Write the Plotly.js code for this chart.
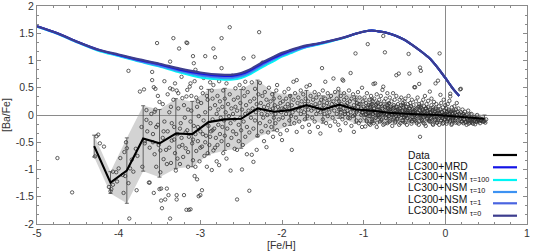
<!DOCTYPE html>
<html><head><meta charset="utf-8">
<script src="https://cdn.plot.ly/plotly-3.0.1.min.js"></script>
<style>html,body{margin:0;padding:0;background:#fff;}#chart{width:534px;height:251px;}</style>
</head><body><div id="chart"></div>
<script>
// ---- observed stars: [Fe/H], [Ba/Fe] pairs, by metallicity range ----
const starsVeryMetalPoor = [
[-4.75,-0.79],[-4.57,-1.42],[-4.27,-0.39],[-4.25,-0.36],[-4.23,-0.52],[-4.29,-0.76],[-4.18,-0.58],[-4.12,-1.32],[-4.09,-1.36],[-4.07,-1.28],[-4.10,-1.40],[-4.07,-1.04],[-4.03,-1.05],[-4.00,-0.98],[-3.98,-0.79],[-3.95,-1.10],[-4.02,-1.22],[-3.94,-1.43],[-3.93,-0.68],[-3.91,-0.50],[-3.90,-0.61],[-3.87,-1.90],[-3.88,-1.25],[-3.88,0.81],[-3.92,-1.12],[-3.86,-0.98],[-3.84,-0.82],[-3.82,-1.04],[-3.78,-1.38],[-3.79,-0.62],[-3.77,-0.75],[-3.74,0.43],[-3.72,-0.22],[-3.71,-0.95],[-3.69,0.47],[-3.68,-0.52],[-3.68,-0.48],[-3.66,0.09],[-3.66,-0.09],[-3.65,-0.30],[-3.63,-1.24],[-3.62,-0.60],[-3.61,-0.15],[-3.60,0.02],[-3.59,0.64],[-3.59,0.79],[-3.62,-1.24],[-3.57,-1.43],[-3.56,0.06]
];
const starsMetalPoor = [
[-3.58,-0.35],[-3.57,0.51],[-3.55,0.48],[-3.53,1.32],[-3.50,0.24],[-3.56,-0.72],[-3.54,-0.95],[-3.52,-0.18],[-3.51,-0.55],[-3.49,-1.05],[-3.48,-1.35],[-3.50,-1.36],[-3.47,-1.71],[-3.48,-1.57],[-3.46,-0.42],[-3.45,-0.81],[-3.44,-0.12],[-3.43,-1.55],[-3.42,-0.64],[-3.41,-1.35],[-3.40,-0.30],[-3.39,-1.47],[-3.38,0.05],[-3.37,0.49],[-3.37,0.98],[-3.37,-1.90],[-3.36,-0.88],[-3.35,-0.47],[-3.34,0.47],[-3.33,1.41],[-3.33,0.28],[-3.32,-0.22],[-3.31,-0.70],[-3.30,-1.02],[-3.29,0.45],[-3.29,-1.55],[-3.29,-1.47],[-3.28,-0.35],[-3.27,0.12],[-3.26,1.22],[-3.26,-0.58],[-3.25,-0.90],[-3.24,-0.15],[-3.23,-0.42],[-3.22,0.31],[-3.21,-0.77],[-3.20,-1.47],[-3.19,-0.05],[-3.18,-0.61],[-3.17,1.33],[-3.17,0.34],[-3.17,-1.74],[-3.16,-0.28],[-3.16,0.46],[-3.16,1.32],[-3.15,-0.95],[-3.14,-1.74],[-3.14,-0.40],[-3.13,0.52],[-3.12,0.58],[-3.12,-1.73],[-3.11,0.08],[-3.10,-0.52],[-3.09,1.08],[-3.09,-0.83],[-3.08,0.95],[-3.08,-0.20],[-3.07,-1.12],[-3.06,0.83],[-3.06,-0.35],[-3.05,0.32],[-3.05,-0.66],[-3.04,-1.18],[-3.04,0.15],[-3.03,-0.48],[-3.02,-1.49],[-3.02,-0.02],[-3.01,-0.85],[-3.00,-1.47],[-3.00,-0.30],[-2.99,0.22],[-2.98,-1.38],[-2.98,-0.58],[-2.97,0.40],[-2.96,-0.10],[-2.95,-0.75],[-2.94,1.08],[-2.94,0.05],[-2.93,-0.38],[-2.92,-0.95],[-2.91,0.28],[-2.90,-0.20],[-2.89,-0.55],[-2.88,0.12],[-2.87,-0.30],[-2.86,-1.01],[-2.86,0.45],[-2.85,-0.08],[-2.84,1.22],[-2.84,0.55],[-2.84,-0.65],[-2.83,-0.25],[-2.82,1.06],[-2.82,0.18],[-2.81,-0.42],[-2.80,-0.85],[-2.80,0.02],
[-3.55,0.10],[-3.52,0.35],[-3.46,0.20],[-3.44,0.62],[-3.40,0.38],[-3.36,0.15],[-3.31,0.58],[-3.27,0.40],[-3.23,0.70],[-3.20,0.18],[-3.15,0.10],[-3.11,0.35],[-3.07,0.62],[-3.03,0.25],[-2.99,0.50],[-2.96,0.68],[-2.92,0.35],[-2.88,0.60],[-2.85,0.30],
[-3.58,-0.50],[-3.54,-0.22],[-3.49,-0.65],[-3.45,-0.30],[-3.41,-0.90],[-3.38,-0.60],[-3.35,-0.15],[-3.32,-0.45],[-3.28,-0.80],[-3.25,-0.25],[-3.22,-0.55],[-3.18,-0.32],[-3.15,-0.68],[-3.12,-0.12],[-3.09,-0.45],[-3.06,-0.95],[-3.03,-0.22],[-3.00,-0.60],[-2.97,-0.35],[-2.94,-0.50],[-2.91,-0.70],[-2.88,-0.40],[-2.85,-0.28],[-2.82,-0.60]
];
const starsHalo = [
[-2.79,0.35],[-2.79,-0.55],[-2.78,0.10],[-2.78,-0.18],[-2.77,0.62],[-2.77,-0.92],[-2.76,-0.35],[-2.76,0.25],[-2.75,-0.05],[-2.74,1.41],[-2.74,0.86],[-2.74,-0.48],[-2.73,0.15],[-2.73,-0.22],[-2.72,0.45],[-2.72,-0.70],[-2.71,-0.10],[-2.70,0.30],[-2.70,-0.38],[-2.69,0.05],[-2.68,-0.80],[-2.68,0.58],[-2.67,-0.25],[-2.66,0.20],[-2.66,-0.55],[-2.65,-0.02],[-2.64,1.61],[-2.64,0.38],[-2.63,-1.02],[-2.63,-0.15],[-2.62,0.12],[-2.62,-0.42],[-2.61,0.72],[-2.60,-0.30],[-2.60,0.02],[-2.59,0.28],[-2.58,-0.62],[-2.58,-0.08],[-2.57,0.49],[-2.57,0.15],[-2.56,-0.35],[-2.55,-1.55],[-2.55,-0.64],[-2.55,0.08],[-2.54,0.32],[-2.53,-0.18],[-2.53,-0.48],[-2.52,0.55],[-2.51,-0.05],[-2.51,0.22],[-2.50,-0.28],[-2.49,-1.00],[-2.49,0.10],[-2.48,-0.55],[-2.47,1.04],[-2.47,0.49],[-2.47,-0.12],[-2.46,0.35],[-2.45,-0.40],[-2.45,0.02],[-2.45,0.61],[-2.44,0.18],[-2.43,-0.72],[-2.43,-0.22],[-2.42,0.42],[-2.41,0.08],[-2.40,-1.39],[-2.40,-0.32],[-2.39,0.25],[-2.38,-0.05],[-2.37,-0.73],[-2.37,0.60],[-2.36,0.12],[-2.35,1.07],[-2.35,-0.86],[-2.35,-0.25],[-2.34,0.30],[-2.33,-0.10],[-2.33,0.48],[-2.32,0.05],[-2.31,-0.64],[-2.31,0.20],[-2.30,-0.38],[-2.29,0.38],[-2.28,1.52],[-2.28,0.10],[-2.27,-0.15],[-2.27,0.59],[-2.26,0.22],[-2.25,-0.30],[-2.25,0.02],[-2.24,0.96],[-2.24,0.35],[-2.23,-0.05],[-2.22,0.15],[-2.22,-0.48],[-2.21,0.42],[-2.20,0.08],[-2.20,-0.20],[-2.19,-0.59],[-2.19,0.28],[-2.18,0.00],[-2.17,0.18],[-2.17,-0.32],[-2.16,0.50],[-2.15,0.10],[-2.15,-0.12],[-2.14,0.25],[-2.13,-0.22],[-2.13,0.05],[-2.12,0.38],[-2.11,-0.40],[-2.11,0.12],[-2.10,-0.05],[-2.10,0.30],[-2.09,0.18],[-2.08,-0.15],[-2.08,0.02],[-2.07,0.45],[-2.06,0.55],[-2.06,-0.28],[-2.05,0.15],[-2.04,0.08],[-2.04,-0.08],[-2.03,0.32],[-2.02,-0.35],[-2.02,0.22],[-2.01,0.05],[-2.00,-0.46],[-2.00,0.12]
];
const starsThickDisk = [
[-1.99,0.25],[-1.99,-0.05],[-1.98,0.10],[-1.97,0.42],[-1.97,-0.18],[-1.96,0.15],[-1.95,0.02],[-1.95,0.30],[-1.94,-0.28],[-1.93,0.08],[-1.93,0.20],[-1.92,0.48],[-1.91,-0.10],[-1.91,0.12],[-1.90,0.35],[-1.89,-0.02],[-1.88,-0.64],[-1.88,0.18],[-1.87,0.05],[-1.86,0.61],[-1.86,0.28],[-1.85,-0.15],[-1.84,0.10],[-1.84,0.40],[-1.83,-0.05],[-1.82,0.64],[-1.82,-0.31],[-1.81,0.22],[-1.80,0.08],[-1.80,0.32],[-1.79,-0.12],[-1.78,0.15],[-1.77,0.45],[-1.77,0.02],[-1.76,0.25],[-1.75,-0.22],[-1.75,0.12],[-1.74,0.38],[-1.73,0.05],[-1.72,0.20],[-1.72,-0.08],[-1.71,0.30],[-1.70,0.15],[-1.70,0.52],[-1.69,-0.02],[-1.68,0.25],[-1.68,0.10],[-1.67,-0.18],[-1.66,0.55],[-1.66,-0.31],[-1.65,0.35],[-1.64,0.08],[-1.64,0.18],[-1.63,-0.05],[-1.62,0.28],[-1.61,0.12],[-1.60,0.42],[-1.60,-0.12],[-1.59,0.20],[-1.58,0.02],[-1.58,0.32],[-1.57,0.15],[-1.56,-0.22],[-1.56,0.08],[-1.55,0.38],[-1.54,0.22],[-1.53,-0.34],[-1.53,0.05],[-1.52,0.28],[-1.51,0.86],[-1.51,0.12],[-1.50,-0.08],[-1.50,0.45],[-1.49,0.18],[-1.48,0.02],[-1.47,0.61],[-1.47,0.30],[-1.46,-0.15],[-1.46,0.10],[-1.45,0.22],[-1.44,0.40],[-1.44,-0.02],[-1.43,0.15],[-1.42,0.28],[-1.42,0.05],[-1.41,-0.20],[-1.40,0.35],[-1.40,0.12],[-1.39,0.20],[-1.38,-0.05],[-1.37,0.67],[-1.37,0.25],[-1.36,0.08],[-1.35,0.42],[-1.35,-0.12],[-1.34,0.18],[-1.33,0.30],[-1.33,0.02],[-1.32,0.15],[-1.31,0.48],[-1.31,-0.18],[-1.30,0.10],[-1.30,0.25],[-1.29,-0.28],[-1.28,0.35],[-1.28,0.05],[-1.27,0.20],[-1.26,0.65],[-1.26,-0.08],[-1.25,0.63],[-1.25,0.12],[-1.24,0.28],[-1.24,0.40],[-1.23,0.02],[-1.22,0.18],[-1.22,-0.15],[-1.21,0.32],[-1.20,0.08],[-1.20,0.22],[-1.19,-0.05],[-1.18,0.15],[-1.18,0.45],[-1.17,0.25],[-1.16,0.77],[-1.16,0.05],[-1.15,-0.20],[-1.15,0.30],[-1.14,0.12],[-1.13,0.38],[-1.13,-0.02],[-1.12,-0.31],[-1.12,0.18],[-1.11,0.10],[-1.10,1.13],[-1.10,0.28],[-1.09,-0.10],[-1.09,0.05],[-1.08,0.22],[-1.07,0.42],[-1.07,0.15],[-1.06,-0.15],[-1.05,0.08],[-1.05,0.32],[-1.04,0.20],[-1.03,0.00],[-1.03,0.12],[-1.02,0.50],[-1.02,-0.22],[-1.01,0.25],[-1.01,0.05],[-1.00,0.15]
];
const starsThinDisk = [
[-0.99,0.32],[-0.99,-0.05],[-0.98,0.12],[-0.98,-0.21],[-0.97,0.22],[-0.97,0.02],[-0.96,0.40],[-0.96,-0.12],[-0.95,0.08],[-0.95,1.30],[-0.94,0.18],[-0.94,-0.02],[-0.93,0.28],[-0.93,0.05],[-0.92,-0.18],[-0.92,0.15],[-0.91,0.35],[-0.91,0.10],[-0.90,-0.08],[-0.90,0.20],
[-0.89,0.02],[-0.89,0.25],[-0.88,0.57],[-0.88,-0.15],[-0.87,0.12],[-0.87,0.30],[-0.86,0.58],[-0.86,0.05],[-0.85,-0.05],[-0.85,0.18],[-0.84,0.38],[-0.84,-0.22],[-0.83,0.10],[-0.83,0.22],[-0.82,-0.02],[-0.82,0.15],[-0.81,0.28],[-0.81,0.00],[-0.80,0.08],[-0.80,-0.12],
[-0.79,0.20],[-0.79,0.35],[-0.78,0.05],[-0.78,-0.08],[-0.77,0.46],[-0.77,0.12],[-0.76,1.45],[-0.76,0.52],[-0.76,-0.18],[-0.75,0.25],[-0.75,0.02],[-0.74,1.15],[-0.74,0.15],[-0.73,-0.05],[-0.73,0.30],[-0.72,0.08],[-0.72,0.18],[-0.71,-0.15],[-0.71,0.40],[-0.70,0.05],[-0.70,0.12],
[-0.69,-0.02],[-0.69,0.22],[-0.68,0.10],[-0.68,0.32],[-0.67,-0.10],[-0.67,0.15],[-0.66,0.05],[-0.66,0.25],[-0.65,-0.20],[-0.65,0.00],[-0.64,0.40],[-0.64,0.12],[-0.63,-0.05],[-0.63,0.18],[-0.62,0.28],[-0.62,0.02],[-0.61,0.08],[-0.61,-0.12],[-0.60,0.73],[-0.60,0.15],[-0.60,0.35],
[-0.59,0.05],[-0.59,-0.08],[-0.58,0.20],[-0.58,0.10],[-0.57,0.76],[-0.57,-0.02],[-0.56,0.28],[-0.56,0.12],[-0.55,-0.15],[-0.55,0.04],[-0.54,0.18],[-0.54,0.32],[-0.53,0.00],[-0.53,0.08],[-0.52,-0.10],[-0.52,0.22],[-0.51,0.14],[-0.51,0.02],[-0.50,0.25],[-0.50,-0.05],
[-0.49,0.10],[-0.49,0.30],[-0.48,-0.02],[-0.48,0.15],[-0.47,0.05],[-0.47,-0.18],[-0.46,0.20],[-0.46,0.08],[-0.45,1.12],[-0.45,0.00],[-0.45,0.35],[-0.44,0.76],[-0.44,0.12],[-0.43,-0.08],[-0.43,0.22],[-0.42,0.04],[-0.42,0.16],[-0.41,-0.12],[-0.41,0.28],[-0.40,0.06],[-0.40,0.10],
[-0.39,-0.04],[-0.39,0.18],[-0.38,0.51],[-0.38,0.08],[-0.37,0.51],[-0.37,-0.10],[-0.36,0.25],[-0.36,0.02],[-0.35,0.12],[-0.35,-0.15],[-0.34,0.32],[-0.34,0.05],[-0.33,0.15],[-0.33,-0.05],[-0.32,0.57],[-0.32,0.20],[-0.31,0.87],[-0.31,-0.40],[-0.31,0.08],[-0.30,0.81],[-0.30,0.00],[-0.30,0.14],
[-0.29,-0.08],[-0.29,0.22],[-0.28,0.10],[-0.28,0.04],[-0.27,0.28],[-0.27,-0.14],[-0.26,0.06],[-0.26,0.16],[-0.25,-0.02],[-0.25,0.35],[-0.24,0.12],[-0.24,-0.20],[-0.23,0.02],[-0.23,0.20],[-0.22,0.08],[-0.22,-0.06],[-0.21,0.26],[-0.21,0.14],[-0.20,0.00],[-0.20,-0.10]
];
const starsSolar = [
[-0.19,0.43],[-0.19,0.10],[-0.18,0.04],[-0.18,-0.12],[-0.17,0.18],[-0.17,0.30],[-0.16,-0.04],[-0.16,0.08],[-0.15,0.14],[-0.15,-0.18],[-0.14,0.02],[-0.14,0.24],[-0.13,0.06],[-0.13,-0.08],[-0.12,0.58],[-0.12,0.12],[-0.11,-0.02],[-0.11,0.20],[-0.10,0.04],[-0.10,-0.14],
[-0.09,0.63],[-0.09,0.08],[-0.08,0.16],[-0.08,-0.06],[-0.07,1.13],[-0.07,0.02],[-0.06,0.37],[-0.06,0.10],[-0.05,-0.10],[-0.05,0.22],[-0.04,0.05],[-0.04,-0.02],[-0.03,0.14],[-0.03,-0.16],[-0.02,0.28],[-0.02,0.00],[-0.01,0.08],[-0.01,-0.08],[0.00,0.18],[0.00,0.02],
[0.01,-0.04],[0.01,0.12],[0.02,0.06],[0.02,-0.12],[0.03,0.20],[0.03,0.00],[0.04,-0.06],[0.04,0.10],[0.05,0.02],[0.05,0.26],[0.06,0.34],[0.06,-0.10],[0.06,0.39],[0.07,0.06],[0.07,-0.02],[0.08,0.14],[0.08,-0.16],[0.09,0.04],[0.09,-0.06],[0.10,0.08],
[0.11,-0.02],[0.11,0.16],[0.12,-0.10],[0.12,0.04],[0.13,0.10],[0.13,-0.06],[0.14,0.00],[0.14,0.22],[0.15,-0.14],[0.15,0.06],[0.16,-0.04],[0.16,0.12],[0.17,0.02],[0.18,0.47],[0.18,-0.08],[0.19,0.48],[0.19,0.05],[0.20,-0.12],[0.20,0.00],
[0.21,-0.05],[0.21,0.10],[0.22,-0.15],[0.22,0.02],[0.23,-0.08],[0.24,0.06],[0.24,-0.02],[0.25,-0.12],[0.26,0.00],[0.26,-0.18],[0.27,-0.06],[0.28,0.08],[0.28,-0.10],[0.29,-0.03],[0.30,-0.14],
[0.31,-0.06],[0.32,0.02],[0.32,-0.12],[0.33,-0.08],[0.34,-0.16],[0.35,-0.04],[0.36,-0.10],[0.37,-0.07],[0.38,-0.13],[0.39,0.00],[0.40,-0.09],[0.41,-0.12],[0.42,-0.06],[0.43,-0.10],[0.45,-0.08],[0.46,-0.12],[0.48,-0.10],[0.50,-0.08]
];
const starsDiskCore = [
[-1.28,0.10],[-1.26,-0.02],[-1.23,0.06],[-1.21,0.16],[-1.19,0.02],[-1.17,-0.06],[-1.14,0.12],[-1.11,0.00],[-1.08,0.08],[-1.06,0.20],[-1.04,-0.10],[-1.02,0.04],
[-0.985,0.08],[-0.975,0.00],[-0.965,-0.10],[-0.955,0.14],[-0.945,0.04],[-0.935,-0.16],[-0.925,-0.02],[-0.915,0.18],[-0.905,0.06],
[-0.895,-0.12],[-0.885,0.02],[-0.875,0.12],[-0.865,-0.06],[-0.855,0.04],[-0.845,0.20],[-0.835,-0.14],[-0.825,0.00],[-0.815,0.10],[-0.805,-0.04],
[-0.795,0.06],[-0.785,-0.10],[-0.775,0.16],[-0.765,0.00],[-0.755,0.04],[-0.745,-0.16],[-0.735,0.10],[-0.725,-0.06],[-0.715,0.02],[-0.705,0.18],
[-0.695,-0.02],[-0.685,-0.12],[-0.675,0.06],[-0.665,0.12],[-0.655,0.02],[-0.645,-0.08],[-0.635,0.04],[-0.625,0.14],[-0.615,-0.14],[-0.605,-0.02],
[-0.595,0.08],[-0.585,-0.06],[-0.575,0.02],[-0.565,-0.18],[-0.555,0.12],[-0.545,0.00],[-0.535,-0.10],[-0.525,0.06],[-0.515,0.18],[-0.505,-0.04],
[-0.495,-0.14],[-0.485,0.00],[-0.475,0.08],[-0.465,-0.06],[-0.455,0.04],[-0.445,-0.10],[-0.435,0.12],[-0.425,0.02],[-0.415,-0.16],[-0.405,-0.04],
[-0.395,0.06],[-0.385,-0.08],[-0.375,0.00],[-0.365,0.10],[-0.355,-0.12],[-0.345,-0.02],[-0.335,0.04],[-0.325,-0.18],[-0.315,0.16],[-0.305,-0.06],
[-0.295,0.02],[-0.285,-0.10],[-0.275,0.08],[-0.265,-0.04],[-0.255,-0.16],[-0.245,0.00],[-0.235,0.12],[-0.225,-0.08],[-0.215,0.04],[-0.205,-0.02],
[-0.195,-0.12],[-0.185,0.06],[-0.175,-0.06],[-0.165,0.00],[-0.155,-0.16],[-0.145,0.10],[-0.135,-0.04],[-0.125,-0.10],[-0.115,0.02],[-0.105,-0.14],
[-0.095,-0.04],[-0.085,0.04],[-0.075,-0.18],[-0.065,-0.02],[-0.055,-0.10],[-0.045,0.06],[-0.035,-0.06],[-0.025,-0.14],[-0.015,0.00],[-0.005,-0.08],
[0.005,-0.02],[0.015,-0.16],[0.025,0.02],[0.035,-0.08],[0.045,0.08],[0.055,-0.12],[0.065,-0.04],[0.075,-0.18],[0.085,0.02],[0.095,-0.10],
[0.105,-0.04],[0.125,-0.14],[0.145,0.00],[0.165,-0.16],[0.185,-0.06],[0.205,-0.12],[0.225,-0.02],[0.245,-0.14],[0.265,-0.08],[0.285,-0.16],[0.305,-0.10],[0.325,-0.14],[0.345,-0.06],[0.365,-0.17],[0.385,-0.11],[0.405,-0.08],[0.425,-0.15],[0.44,-0.10],[0.47,-0.12],[0.49,-0.14]
];

// ---- binned data: mean and dispersion ----
const binFeH   = [-4.3,-4.1,-3.9,-3.7,-3.5,-3.3,-3.1,-2.9,-2.7,-2.5,-2.3,-2.1,-1.9,-1.7,-1.5,-1.3,-1.1,-0.9,-0.7,-0.5,-0.3,-0.1,0.1,0.3,0.48];
const binMean  = [-0.57,-1.24,-1.02,-0.43,-0.52,-0.34,-0.35,-0.13,-0.08,-0.07,0.12,0.06,0.09,0.18,0.10,0.19,0.10,0.08,0.04,0.02,0.01,0.00,-0.02,-0.05,-0.07];
const binSigma = [0.20,0.20,0.60,0.60,0.62,0.64,0.60,0.60,0.57,0.54,0.52,0.35,0.28,0.27,0.25,0.25,0.25,0.22,0.19,0.17,0.15,0.13,0.11,0.09,0.07];

// ---- GCE models ----
const modelFeH  = [-5,-4.75,-4.5,-4.25,-4,-3.75,-3.5,-3.25,-3,-2.75,-2.6,-2.5,-2.4,-2.25,-2.1,-2,-1.9,-1.75,-1.5,-1.25,-1.1,-1,-0.9,-0.8,-0.7,-0.6,-0.5,-0.4,-0.3,-0.2,-0.1,0,0.1,0.17];
const modelMRD  = [1.63,1.50,1.34,1.20,1.10,1.01,0.93,0.83,0.76,0.72,0.72,0.75,0.81,0.94,1.05,1.12,1.18,1.25,1.33,1.42,1.49,1.53,1.55,1.53,1.50,1.45,1.38,1.28,1.17,1.05,0.88,0.68,0.47,0.35];
const modelNSM100 = [1.62,1.49,1.33,1.18,1.08,0.98,0.89,0.78,0.69,0.65,0.65,0.68,0.74,0.87,0.99,1.07,1.13,1.22,1.31,1.41,1.49,1.53,1.55,1.53,1.50,1.45,1.38,1.28,1.17,1.05,0.88,0.68,0.47,0.35];
const modelNSM10  = [1.62,1.49,1.33,1.19,1.09,0.99,0.90,0.80,0.72,0.68,0.68,0.71,0.77,0.90,1.02,1.09,1.15,1.23,1.32,1.41,1.49,1.53,1.55,1.53,1.50,1.45,1.38,1.28,1.17,1.05,0.88,0.68,0.47,0.35];
const modelNSM1   = [1.63,1.50,1.34,1.19,1.10,1.00,0.92,0.82,0.745,0.705,0.705,0.735,0.795,0.925,1.04,1.11,1.17,1.24,1.32,1.42,1.49,1.53,1.55,1.53,1.50,1.45,1.38,1.28,1.17,1.05,0.88,0.68,0.47,0.35];
const modelNSM0   = [1.63,1.50,1.34,1.20,1.11,1.02,0.94,0.85,0.78,0.74,0.74,0.77,0.83,0.96,1.07,1.14,1.19,1.26,1.33,1.42,1.49,1.53,1.55,1.53,1.50,1.45,1.38,1.28,1.17,1.05,0.88,0.68,0.47,0.35];

// ---- legend & ticks ----
const legendLabels = ['Data','LC300+MRD','LC300+NSM <sub>τ=100</sub>','LC300+NSM <sub>τ=10</sub>','LC300+NSM <sub>τ=1</sub>','LC300+NSM <sub>τ=0</sub>'];
const legendColors = ['#000000','#1414e6','#00f5f5','#3d92f2','#4a64e0','#3d3d8e'];
const xTickVals = [-5,-4,-3,-2,-1,0,1];
const xTickText = ['-5','-4','-3','-2','-1','0','1'];
const yTickVals = [-2,-1.5,-1,-0.5,0,0.5,1,1.5,2];
const yTickText = ['-2','-1.5','-1','-0.5','0','0.5','1','1.5','2'];

const FONT = "'Liberation Sans', Arial, sans-serif";
const stars = [].concat(starsVeryMetalPoor, starsMetalPoor, starsHalo, starsThickDisk, starsThinDisk, starsSolar, starsDiskCore);

const upper = binMean.map((m,i)=>m+binSigma[i]);
const lower = binMean.map((m,i)=>m-binSigma[i]);

const traces = [
  {x: binFeH.concat(binFeH.slice().reverse()), y: upper.concat(lower.slice().reverse()),
   type:'scatter', mode:'lines', fill:'toself', fillcolor:'rgba(150,150,150,0.42)', line:{width:0}, hoverinfo:'skip', showlegend:false},
  {x: stars.map(p=>p[0]), y: stars.map(p=>p[1]), type:'scatter', mode:'markers',
   marker:{symbol:'circle-open', size:3.4, color:'#2e2e2e', line:{width:0.75}}, showlegend:false},
  {x: binFeH, y: binMean, type:'scatter', mode:'lines', line:{color:'#000', width:2.1},
   error_y:{type:'data', array:binSigma, visible:true, color:'#444', thickness:0.8, width:2}, showlegend:false},
  {x: modelFeH, y: modelNSM100, mode:'lines', line:{color:legendColors[2], width:2, shape:'spline', smoothing:0.8}, showlegend:false},
  {x: modelFeH, y: modelNSM10, mode:'lines', line:{color:legendColors[3], width:2, shape:'spline', smoothing:0.8}, showlegend:false},
  {x: modelFeH, y: modelNSM1, mode:'lines', line:{color:legendColors[4], width:2, shape:'spline', smoothing:0.8}, showlegend:false},
  {x: modelFeH, y: modelMRD, mode:'lines', line:{color:legendColors[1], width:2, shape:'spline', smoothing:0.8}, showlegend:false},
  {x: modelFeH, y: modelNSM0, mode:'lines', line:{color:legendColors[5], width:2.2, shape:'spline', smoothing:0.8}, showlegend:false}
];

// custom legend (text left, line sample right) and axis titles
const textRowsPx = [155,166,177.5,188.5,200,211.5];
const lineRowsPx = [155,167.3,180,192,203.3,215.7];
const plotTop = 6, plotH = 218, plotL = 37, plotW = 490;
const annotations = legendLabels.map((t,i)=>({
  text:t, xref:'paper', yref:'paper', x:(406-plotL)/plotW, y:(plotTop+plotH-textRowsPx[i])/plotH,
  xanchor:'left', yanchor:'middle', showarrow:false, font:{family:FONT, size:10.3, color:'#111'}
}));
annotations.push({text:'[Fe/H]', xref:'paper', yref:'paper', x:(281-plotL)/plotW, y:(plotTop+plotH-245)/plotH,
  xanchor:'center', yanchor:'middle', showarrow:false, font:{family:FONT, size:10.5, color:'#333'}});
annotations.push({text:'[Ba/Fe]', xref:'paper', yref:'paper', x:(6-plotL)/plotW, y:(plotTop+plotH-115)/plotH,
  xanchor:'center', yanchor:'middle', textangle:-90, showarrow:false, font:{family:FONT, size:10.5, color:'#333'}});
const shapes = legendColors.map((c,i)=>({
  type:'line', xref:'paper', yref:'paper', x0:(493-plotL)/plotW, x1:(517-plotL)/plotW,
  y0:(plotTop+plotH-lineRowsPx[i])/plotH, y1:(plotTop+plotH-lineRowsPx[i])/plotH,
  line:{color:c, width:2.2}
}));

const axisCommon = {
  showgrid:false, showline:true, linecolor:'#8a8a8a', linewidth:1, mirror:'ticks',
  ticks:'inside', ticklen:4, tickcolor:'#8a8a8a', tickwidth:1, ticklabeloverflow:'allow',
  zeroline:true, zerolinecolor:'#8a8a8a', zerolinewidth:1,
  tickfont:{family:FONT, size:10.5, color:'#333'}, fixedrange:true
};

const layout = {
  width:534, height:251, margin:{l:37, r:7, t:6, b:27},
  paper_bgcolor:'#fff', plot_bgcolor:'#fff', showlegend:false,
  xaxis: Object.assign({}, axisCommon, {range:[-5,1], tickmode:'array', tickvals:xTickVals, ticktext:xTickText,
    ticklabelstandoff:-1,
    minor:{dtick:0.2, ticks:'inside', ticklen:2, tickcolor:'#8a8a8a'}}),
  yaxis: Object.assign({}, axisCommon, {range:[-2,2], tickmode:'array', tickvals:yTickVals, ticktext:yTickText,
    minor:{dtick:1/6, tick0:0, ticks:'inside', ticklen:2, tickcolor:'#8a8a8a'}}),
  annotations: annotations, shapes: shapes
};

Plotly.newPlot('chart', traces, layout, {staticPlot:true, displayModeBar:false});
</script></body></html>
